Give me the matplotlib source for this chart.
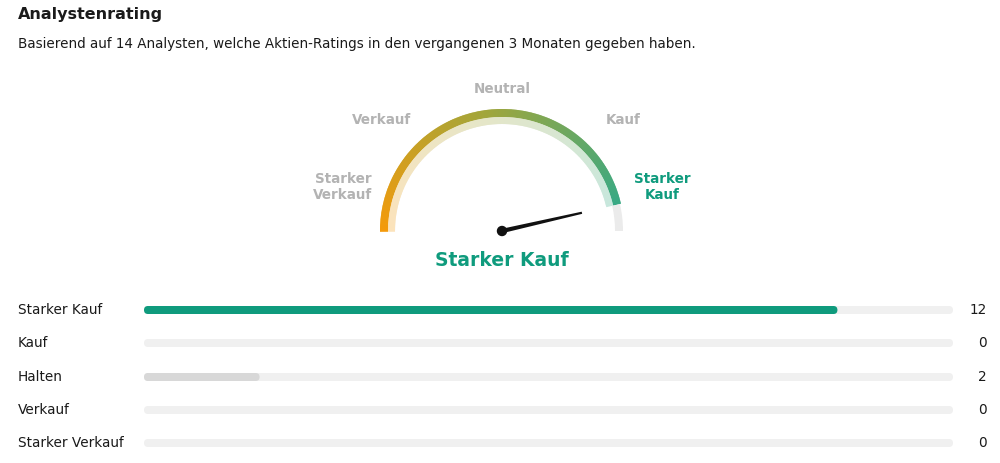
import numpy as np
import matplotlib
matplotlib.use("Agg")
import matplotlib.pyplot as plt
from matplotlib.patches import Wedge, FancyBboxPatch, Circle, Polygon
from matplotlib.colors import to_rgb

# ---- data ----
categories = ["Starker Kauf", "Kauf", "Halten", "Verkauf", "Starker Verkauf"]
counts = [12, 0, 2, 0, 0]
scores = [5, 4, 3, 2, 1]
gauge_labels = ["Starker\nVerkauf", "Verkauf", "Neutral", "Kauf", "Starker\nKauf"]
title = "Analystenrating"
subtitle = "Basierend auf 14 Analysten, welche Aktien-Ratings in den vergangenen 3 Monaten gegeben haben."
verdict = "Starker Kauf"

W, H = 1000, 463
plt.rcParams['font.family'] = ['DejaVu Sans']
fig = plt.figure(figsize=(W / 100, H / 100), dpi=100)
ax = fig.add_axes([0, 0, 1, 1])
ax.set_xlim(0, W)
ax.set_ylim(H, 0)
ax.axis("off")

def px(p):
    return p * 72 / 100

GREEN = "#0f9b7d"
LGRAY = "#b3b3b3"
TXT = "#1a1a1a"

ax.text(18, 15, title, fontsize=px(16), fontweight="bold", color=TXT, va="center", ha="left")
ax.text(18, 44, subtitle, fontsize=px(13.5), color=TXT, va="center", ha="left")

# ---- gauge ----
cx, cy = 502, 231
R_out, R_mid, R_in = 122, 114, 107
total = sum(counts)
avg = sum(c * s for c, s in zip(counts, scores)) / total
val_ang = 180 * (5 - avg) / 4  # degrees from right

stops = [(0.0, "#f59a0b"), (0.5, "#a0a63c"), (1.0, "#38a985")]
def grad(t):
    for (t0, c0), (t1, c1) in zip(stops[:-1], stops[1:]):
        if t <= t1:
            f = (t - t0) / (t1 - t0)
            a, b = np.array(to_rgb(c0)), np.array(to_rgb(c1))
            return a + (b - a) * f
    return np.array(to_rgb(stops[-1][1]))

n = 300
angs = np.linspace(180.0, val_ang, n + 1)
for i in range(n):
    a0, a1 = angs[i], angs[i + 1]
    t = (180 - (a0 + a1) / 2) / (180 - val_ang)
    c = grad(t)
    pale = 1 - (1 - c) * 0.28
    ax.add_patch(Wedge((cx, cy), R_out, -a0 - 0.4, -a1, width=R_out - R_mid,
                       facecolor=c, edgecolor="none", lw=0))
    ax.add_patch(Wedge((cx, cy), R_mid, -a0 - 0.4, -a1, width=R_mid - R_in,
                       facecolor=pale, edgecolor="none", lw=0))
ax.add_patch(Wedge((cx, cy), R_out - 1, -val_ang, 0, width=R_out - R_mid,
                   facecolor="#ebebeb", edgecolor="none"))

# needle (tapered)
nr = 82
th = np.deg2rad(val_ang)
ux, uy = np.cos(th), -np.sin(th)
nx, ny = -uy, ux
tip = (cx + nr * ux, cy + nr * uy)
ax.add_patch(Polygon([(cx + 2.2 * nx, cy + 2.2 * ny), (tip[0] + 1.1 * nx, tip[1] + 1.1 * ny),
                      (tip[0] - 1.1 * nx, tip[1] - 1.1 * ny), (cx - 2.2 * nx, cy - 2.2 * ny)],
                     closed=True, facecolor="#111111", edgecolor="none"))
ax.add_patch(Circle((cx, cy), 4.5, color="#111111"))

# gauge labels
lab_pos = [(343, 187), (382, 120), (502, 89), (623, 120), (662, 187)]
for lab, (x, y) in zip(gauge_labels, lab_pos):
    col = GREEN if lab.replace("\n", " ") == verdict else LGRAY
    ax.text(x, y, lab, fontsize=px(13.5), fontweight="bold", color=col,
            ha="center", va="center", linespacing=1.25)

ax.text(cx, 261, verdict, fontsize=px(18.8), fontweight="bold", color=GREEN,
        ha="center", va="center")

# ---- bars ----
x0, x1 = 144, 953
bh = 8
row_y = [310, 343, 377, 410, 443]
bar_cols = [GREEN, "#d8d8d8", "#d8d8d8", "#d8d8d8", "#d8d8d8"]
for cat, cnt, y, col in zip(categories, counts, row_y, bar_cols):
    ax.text(18, y, cat, fontsize=px(13.6), color=TXT, ha="left", va="center")
    ax.add_patch(FancyBboxPatch((x0, y - bh / 2), (x1 - x0), bh,
                                boxstyle=f"round,pad=0,rounding_size={bh/2}",
                                facecolor="#f0f0f0", edgecolor="none"))
    if cnt > 0:
        w = (x1 - x0) * cnt / total
        ax.add_patch(FancyBboxPatch((x0, y - bh / 2), w, bh,
                                    boxstyle=f"round,pad=0,rounding_size={bh/2}",
                                    facecolor=col, edgecolor="none"))
    ax.text(987, y, str(cnt), fontsize=px(13.6), color=TXT, ha="right", va="center")

fig.savefig("out.png", dpi=100)
